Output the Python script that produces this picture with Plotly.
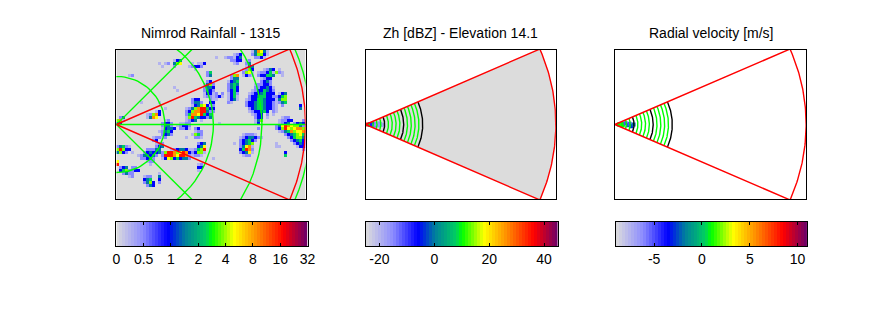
import numpy as np
import plotly.graph_objects as go

# figure size in pixels
W, H = 889, 333

titles = ['Nimrod Rainfall - 1315', 'Zh [dBZ] - Elevation 14.1', 'Radial velocity [m/s]']

# colour ramp shared by the three colour bars
ramp_pos = [0, 0.14, 0.27, 0.36, 0.47, 0.5, 0.615, 0.72, 0.875, 1]
ramp_col = ['#dcdcdc', '#8c8cff', '#0000ff', '#00809c', '#00d060', '#00ff00', '#ffff00',
            '#ff9900', '#ff0000', '#6a006a']
scale = [[p, c] for p, c in zip(ramp_pos, ramp_col)]
n_steps = 64

# colour bar axes
bar_range = [[0, 7], [-25, 45], [-9, 11]]
bar_ticks = [[0, 1, 2, 3, 4, 5, 6, 7], [-20, 0, 20, 40], [-5, 0, 5, 10]]
bar_text = [['0', '0.5', '1', '2', '4', '8', '16', '32'],
            ['-20', '0', '20', '40'], ['-5', '0', '5', '10']]

# radar geometry (km, degrees)
max_range = 195
half_angle = 23.7
map_rings = [50, 100, 150, 200]
map_spokes = [-45, 0, 45]
height_rings = [3.9, 7.8, 11.7, 15.6, 23.4, 27.3, 31.2, 35.1, 42.9, 46.8, 50.7, 54.6]
height_rings_5km = [19.5, 39.0, 58.5]

# rain field, digits are levels on the colour bar, '.' is dry
n_cols, n_rows = 63, 50
level_value = {'1': 0.5, '2': 1.0, '3': 1.9, '4': 2.5, '5': 3.3, '6': 3.9, '7': 4.3, '8': 5.1, '9': 6.0}

# (first row, first column, rows of levels)
rain_blobs = [
    (0, 45, ['148741', '246631', '.2231.']),
    (2, 36, ['1223', '..21']),
    (1, 39, ['123', '134', '233', '12.']),
    (3, 43, ['12.', '24.', '134']),
    (6, 42, ['1263', '2671', '1321']),
    (4, 14, ['1.12', '.1..']),
    (3, 19, ['134', '467', '2..']),
    (4, 24, ['.1.113', '12332.', '..1...']),
    (7, 30, ['25', '24']),
    (8, 4, ['12']),
    (8, 38, ['268', '244']),
    (10, 37, ['1345', '2454', '2453', '2353', '1352', '1351', '1341', '21..']),
    (10, 29, ['.23.', '1462', '2443', '2432', '1331', '1221']),
    (16, 31, ['21', '33', '22', '23', '12']),
    (14, 32, ['12.2', '1231', '.1..']),
    (6, 47, ['..1243', '122354', '233554']),
    (9, 48, ['1233', '2342', '.121']),
    (11, 43, ['...122332.', '...2233431', '..12335432', '.123345333', '.2334553322', '12335543331',
              '23345543321', '23345543321', '.2345543321', '.1233453.21', '..1233.2.1.', '...233.1...']),
    (23, 46, ['146', '13.']),
    (14, 54, ['134', '356', '466', '245', '.2.']),
    (7, 52, ['16']),
    (6, 54, ['1', '2']),
    (7, 55, ['1', '1']),
    (18, 61, ['3', '4']),
    (20, 10, ['...13', '12683', '1487.']),
    (22, 0, ['.24', '681', '43.']),
    (16, 25, ['233.', '2442']),
    (18, 23, ['..1346731', '124689953', '236889942', '258879532', '16954332.', '1234.1...']),
    (21, 30, ['35', '24']),
    (23, 16, ['12']),
    (24, 15, ['2332..1122', '2442.12332', '13443.2231']),
    (27, 14, ['12453', '.2342', '.12..']),
    (26, 26, ['23.', '122']),
    (28, 25, ['1652', '.221']),
    (29, 12, ['122', '23.']),
    (28, 41, ['.12221.', '123443.', '234532.', '23456..', '24781..', '35982..', '23471..', '.122...']),
    (29, 47, ['21']),
    (31, 25, ['..234', '..347', '12569', '23661', '1221.']),
    (33, 16, ['..1234431.']),
    (34, 15, ['2699867983', '2999879982', '1376353442']),
    (31, 13, ['122', '234']),
    (33, 8, ['..22244.', '.234334.']),
    (35, 7, ['1244342..', '.22342...', '...122...', '....1....']),
    (32, 0, ['24521.', '69633.', '4632.1']),
    (37, 0, ['7', '9']),
    (39, 1, ['234.22', '3562233', '.2422..', '...12']),
    (42, 9, ['122..4', '345..3', '2463.2', '.243..']),
    (38, 27, ['12', '33', '1.']),
    (22, 55, ['122']),
    (23, 54, ['12233']),
    (24, 53, ['.1234.2344', '2479876644', '2369767886', '.124586778', '...2345675',
              '....235664', '.....23453', '......2343', '.......133', '.........2']),
    (23, 62, ['2', '3', '2']),
    (31, 53, ['1.', '11']),
    (34, 56, ['3', '5']),
    (26, 47, ['2']),
    (17, 8, ['1']),
    (17, 14, ['1']),
    (13, 20, ['1']),
    (31, 39, ['1']),
    (2, 33, ['1']),
    (12, 19, ['1']),
    (19, 16, ['1']),
    (29, 23, ['1']),
    (36, 32, ['1']),
    (24, 34, ['1']),
    (41, 14, ['1']),
]

# echoes near the radar in the two sweep panels: range km, azimuth deg, value
zh_range = [2, 4, 5, 6, 7, 7, 9, 11, 13, 13, 15, 17]
zh_azim = [0, 0, 2, -3, 0, 5, -6, 3, -5, 6, 2, -2]
zh_value = [32, 2, -8, -8, -6, -8, -14, -16, -16, -18, -16, -18]
vr_range = [4, 5, 6, 7, 8, 8, 11, 13, 15, 17, 19]
vr_azim = [0, 3, -3, 0, 4, -5, 7, -4, 3, -6, 0]
vr_value = [1, 1, 1, 1.5, 0.5, 1, -5, -2, -5, -3, -2]

# pixel boxes of the axes, tuned against the rendered page
map_boxes = [(105.8, 297.6), (358.5, 551.3), (611.2, 805)]
bar_boxes = [(105.8, 299.6), (358.5, 553.3), (612.2, 806)]
map_y = (42, 191)
bar_y = (214, 238)
title_y = 25


def arc(radii, a0, a1):
    xs, ys = [], []
    for r in radii:
        t = np.radians(np.linspace(a0, a1, 91))
        xs += list(r * np.cos(t)) + [None]
        ys += list(r * np.sin(t)) + [None]
    return xs, ys


def rays(angles, length):
    xs, ys = [], []
    for a in angles:
        t = np.radians(a)
        xs += [0, length * np.cos(t), None]
        ys += [0, length * np.sin(t), None]
    return xs, ys


def line(xy, color, ax, width=1.4):
    return go.Scatter(x=xy[0], y=xy[1], mode='lines', line=dict(color=color, width=width),
                      xaxis='x' + ax, yaxis='y' + ax, hoverinfo='skip', showlegend=False)


def sector_outline():
    t = np.radians(np.linspace(-half_angle, half_angle, 91))
    return [0] + list(max_range * np.cos(t)) + [0], [0] + list(max_range * np.sin(t)) + [0]


def polar_points(rng, az, val, ax, lo, hi):
    t = np.radians(az)
    return go.Scatter(x=np.array(rng) * np.cos(t), y=np.array(rng) * np.sin(t), mode='markers',
                      marker=dict(symbol='square', size=4, color=val, colorscale=scale, cmin=lo, cmax=hi),
                      xaxis='x' + ax, yaxis='y' + ax, hoverinfo='skip', showlegend=False)


rain = np.zeros((n_rows, n_cols))
for r0, c0, rows in rain_blobs:
    for i, row in enumerate(rows):
        for j, ch in enumerate(row):
            if ch != '.' and r0 + i < n_rows and c0 + j < n_cols:
                rain[r0 + i, c0 + j] = level_value[ch]

y_top = 150 / (2 * 189 / 195)
cell_x = [(c + 0.5) * max_range / n_cols for c in range(n_cols)]
cell_y = [y_top - (r + 0.5) * 2 * y_top / n_rows for r in range(n_rows)]

fig = go.Figure()

# rainfall map
fig.add_trace(go.Heatmap(x=cell_x, y=cell_y, z=rain, colorscale=scale, zmin=0, zmax=7,
                         showscale=False, xaxis='x1', yaxis='y1', hoverinfo='skip'))
fig.add_trace(line(arc(map_rings, -180, 180), '#00ff00', '1'))
fig.add_trace(line(rays(map_spokes, 300), '#00ff00', '1'))
fig.add_trace(line(sector_outline(), '#ff0000', '1'))

# sweep panels
for k, ax in enumerate(['2', '3']):
    sx, sy = sector_outline()
    if k == 0:
        fig.add_trace(go.Scatter(x=sx, y=sy, mode='none', fill='toself', fillcolor='#dcdcdc',
                                 xaxis='x2', yaxis='y2', hoverinfo='skip', showlegend=False))
        fig.add_trace(polar_points(zh_range, zh_azim, zh_value, ax, -25, 45))
    else:
        fig.add_trace(polar_points(vr_range, vr_azim, vr_value, ax, -9, 11))
    fig.add_trace(line(arc(height_rings, -half_angle, half_angle), '#00ff00', ax))
    fig.add_trace(line(arc(height_rings_5km, -half_angle, half_angle), '#000000', ax))
    fig.add_trace(line((sx, sy), '#ff0000', ax))

# colour bars
for k in range(3):
    lo, hi = bar_range[k]
    edges = np.linspace(lo, hi, n_steps + 1)
    fig.add_trace(go.Heatmap(x=edges, y=[0, 1], z=[(edges[:-1] + edges[1:]) / 2], colorscale=scale,
                             zmin=lo, zmax=hi, showscale=False, xaxis='x%d' % (k + 4), yaxis='y%d' % (k + 4),
                             hoverinfo='skip'))

layout = dict(width=W, height=H, margin=dict(l=0, r=0, t=0, b=0), paper_bgcolor='white',
              plot_bgcolor='white', showlegend=False)
font = dict(family='Liberation Sans', size=14, color='black')
for k in range(3):
    n = str(k + 1)
    x0, x1 = map_boxes[k]
    layout['xaxis' + n] = dict(domain=[x0 / W, x1 / W], range=[0, max_range], showgrid=False, zeroline=False,
                               showticklabels=False, ticks='', showline=True, mirror=True,
                               linecolor='black', linewidth=1, anchor='y' + n)
    layout['yaxis' + n] = dict(domain=[1 - map_y[1] / H, 1 - map_y[0] / H], range=[-y_top, y_top], showgrid=False,
                               zeroline=False, showticklabels=False, ticks='', showline=True, mirror=True,
                               linecolor='black', linewidth=1, anchor='x' + n)
    n = str(k + 4)
    x0, x1 = bar_boxes[k]
    layout['xaxis' + n] = dict(domain=[x0 / W, x1 / W], range=bar_range[k], showgrid=False, zeroline=False,
                               tickvals=bar_ticks[k], ticktext=bar_text[k], ticks='inside', ticklen=3,
                               tickcolor='black', tickwidth=1, tickfont=font, showline=True, mirror='ticks',
                               linecolor='black', linewidth=1, anchor='y' + n)
    layout['yaxis' + n] = dict(domain=[1 - bar_y[1] / H, 1 - bar_y[0] / H], range=[0, 1], showgrid=False,
                               zeroline=False, showticklabels=False, ticks='', showline=True, mirror=True,
                               linecolor='black', linewidth=1, anchor='x' + n)

layout['annotations'] = [dict(text=titles[k], x=sum(map_boxes[k]) / 2 / W, y=1 - title_y / H, xref='paper', yref='paper',
                              showarrow=False, xanchor='center', yanchor='middle', font=font)
                         for k in range(3)]
fig.update_layout(**layout)
fig.write_html('out.html')
